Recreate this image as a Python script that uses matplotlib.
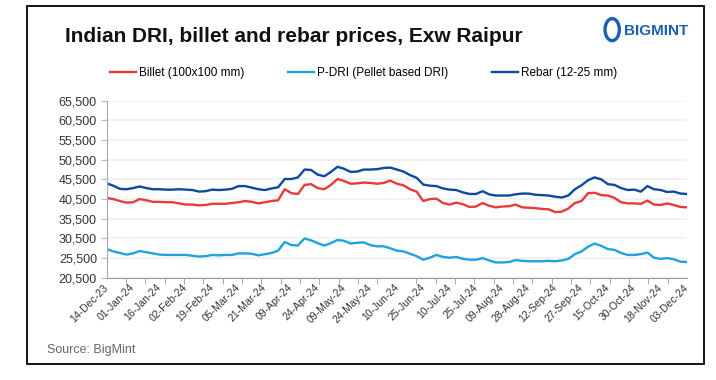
import matplotlib
matplotlib.use("Agg")
import matplotlib.pyplot as plt
from matplotlib.patches import Rectangle, Ellipse
import numpy as np

plt.rcParams['font.family'] = ['Liberation Sans', 'DejaVu Sans']

# prices, INR/t (about 4 points per label interval)
billet = [40800, 40500, 40000, 39600, 39700, 40500, 40200, 39800, 39800, 39700,
          39700, 39400, 39100, 39100, 38900, 39000, 39300, 39300, 39300, 39500,
          39700, 40000, 39800, 39400, 39700, 40000, 40200, 43000, 42000, 41800,
          44100, 44300, 43300, 43000, 44100, 45600, 45100, 44400, 44500, 44700,
          44600, 44400, 44600, 45200, 44400, 44000, 43000, 42400, 40000, 40500,
          40600, 39500, 39100, 39600, 39200, 38500, 38600, 39500, 38800, 38400,
          38600, 38700, 39100, 38400, 38300, 38200, 38000, 37900, 37200, 37300,
          38100, 39500, 40000, 42000, 42100, 41500, 41400, 40800, 39700, 39400,
          39400, 39300, 40100, 39100, 39000, 39400, 39000, 38500, 38400]
pdri = [27800, 27200, 26800, 26400, 26700, 27300, 27000, 26700, 26400, 26300,
        26300, 26300, 26300, 26100, 25900, 26000, 26300, 26200, 26300, 26300,
        26700, 26700, 26600, 26200, 26500, 26800, 27400, 29600, 28800, 28700,
        30500, 30000, 29300, 28700, 29300, 30100, 29900, 29200, 29400, 29500,
        28800, 28500, 28500, 28000, 27400, 27200, 26600, 26000, 25100, 25600,
        26300, 25800, 25600, 25800, 25300, 25100, 25100, 25500, 24900, 24400,
        24400, 24500, 25000, 24800, 24700, 24700, 24700, 24800, 24700, 24900,
        25300, 26500, 27200, 28400, 29200, 28600, 27800, 27600, 26800, 26300,
        26300, 26500, 26900, 25600, 25300, 25500, 25200, 24600, 24500]
rebar = [44500, 43900, 43100, 43000, 43300, 43700, 43300, 43000, 43000, 42900,
         42900, 43000, 42900, 42800, 42400, 42500, 42900, 42800, 42900, 43100,
         43800, 43800, 43400, 43000, 42800, 43200, 43500, 45600, 45600, 46000,
         48000, 47900, 46700, 46300, 47400, 48700, 48200, 47400, 47500, 48000,
         48000, 48100, 48400, 48500, 48000, 47500, 46600, 45900, 44200, 43900,
         43800, 43200, 42900, 42800, 42200, 41800, 41800, 42500, 41700, 41400,
         41400, 41400, 41700, 41900, 41900, 41600, 41500, 41400, 41100, 40900,
         41400, 43000, 44000, 45300, 46000, 45500, 44300, 44100, 43300, 42800,
         42900, 42400, 43800, 43000, 42800, 42300, 42400, 41900, 41800]

date_labels = ['14-Dec-23', '01-Jan-24', '16-Jan-24', '02-Feb-24', '19-Feb-24',
               '05-Mar-24', '21-Mar-24', '09-Apr-24', '24-Apr-24', '09-May-24',
               '24-May-24', '10-Jun-24', '25-Jun-24', '10-Jul-24', '25-Jul-24',
               '09-Aug-24', '28-Aug-24', '12-Sep-24', '27-Sep-24', '15-Oct-24',
               '30-Oct-24', '18-Nov-24', '03-Dec-24']

c_billet = '#e83a3b'
c_pdri = '#1ea3de'
c_rebar = '#0b4a9c'

x = np.arange(len(billet))
n = len(billet) - 1

fig = plt.figure(figsize=(7.16, 3.8), dpi=100)
ax = fig.add_axes([0.149, 0.269, 0.8105, 0.466])

ax.plot(x, billet, color=c_billet, lw=1.7, label='Billet (100x100 mm)')
ax.plot(x, pdri, color=c_pdri, lw=1.7, label='P-DRI (Pellet based DRI)')
ax.plot(x, rebar, color=c_rebar, lw=1.7, label='Rebar (12-25 mm)')

ax.set_ylim(20500, 65500)
ax.set_xlim(0, n)
ax.set_yticks(np.arange(20500, 65501, 5000))
ax.set_yticklabels([f'{v:,}' for v in range(20500, 65501, 5000)], fontsize=9, color='#333333')
ax.grid(axis='y', color='#f0f0f0', lw=1.2)
ax.set_axisbelow(True)

ax.set_xticks(np.linspace(0, n, len(date_labels)))
ax.set_xticklabels(date_labels, rotation=45, ha='right', va='center',
                   rotation_mode='anchor', fontsize=7.5, color='#333333')
ax.tick_params(axis='x', length=0, pad=6)
ax.set_xticks(np.linspace(0, n, 31), minor=True)
ax.tick_params(axis='x', which='minor', length=4, color='#999999', direction='out')
ax.tick_params(axis='y', length=4, color='#bbbbbb', pad=3)

for s in ['top', 'right']:
    ax.spines[s].set_visible(False)
ax.spines['left'].set_color('#aaaaaa')
ax.spines['bottom'].set_color('#999999')

fig.legend(loc='center', bbox_to_anchor=(0.508, 0.808), ncol=3, frameon=False,
           fontsize=8.5, handlelength=2.2, handletextpad=0.25, columnspacing=3.7)

fig.text(0.091, 0.905, 'Indian DRI, billet and rebar prices, Exw Raipur',
         fontsize=15, fontweight='bold', color='#111111', va='center')
fig.text(0.872, 0.918, 'BIGMINT', fontsize=11, fontweight='bold', color='#1a5fb4',
         va='center')
fig.patches.append(Ellipse((0.855, 0.922), 0.020, 0.058, transform=fig.transFigure,
                           fc='none', ec='#1a5fb4', lw=2.4))
fig.text(0.066, 0.079, 'Source: BigMint', fontsize=9, color='#666666', va='center')

fig.patches.append(Rectangle((0.038, 0.042), 0.945, 0.942, transform=fig.transFigure,
                             fill=False, ec='black', lw=1.3))

fig.savefig('out.png', dpi=100)
